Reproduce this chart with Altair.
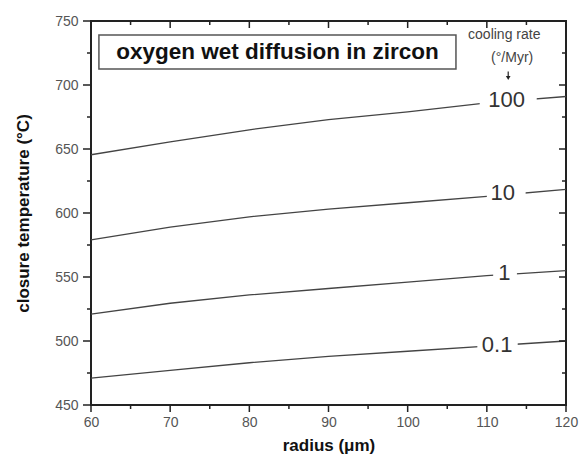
import altair as alt
import pandas as pd

# ---- data ----
radius = [60, 70, 80, 90, 100, 110, 120]
tc_100 = [645.5, 655.5, 665, 673, 679, 686, 691]
tc_10 = [579, 589, 597, 603, 608, 613, 618.5]
tc_1 = [521, 529.5, 536, 541, 546, 551, 555]
tc_01 = [471, 477, 483, 488, 492, 496, 500]
rates = ["100", "10", "1", "0.1"]

# in-line rate labels (position along each curve) and the gap cut in the curve
label_x = [112.5, 112.0, 112.2, 111.3]
label_y = [688, 615.5, 553, 497]
gap_x0 = [109.1, 110.0, 110.8, 108.8]
gap_x1 = [116.3, 114.9, 113.8, 113.9]

x_major = [60, 70, 80, 90, 100, 110, 120]
x_minor = [65, 75, 85, 95, 105, 115]
y_major = [450, 500, 550, 600, 650, 700, 750]
y_minor = [475, 525, 575, 625, 675, 725]

title_text = ["oxygen wet diffusion in zircon"]
title_box_x = [61.0, 106.1]
title_box_y = [712.5, 739.1]
legend_text = ["cooling rate", "(°/Myr)"]
legend_x = [112.2, 113.2]
legend_y = [739, 721]
arrow_x = [112.7]
arrow_y = [710.5, 705.5]

FONT = "Liberation Sans"
W, H = 475, 384

rows = []
for r, series in zip(rates, [tc_100, tc_10, tc_1, tc_01]):
    for xv, yv in zip(radius, series):
        rows.append({"rate": r, "radius": xv, "tc": yv})
lines_df = pd.DataFrame(rows)

lab_df = pd.DataFrame({"rate": rates, "lx": label_x, "ly": label_y,
                       "gx0": gap_x0, "gx1": gap_x1})
box_df = pd.DataFrame({"bx0": [title_box_x[0]], "bx1": [title_box_x[1]],
                       "by0": [title_box_y[0]], "by1": [title_box_y[1]],
                       "tx": [sum(title_box_x) / 2], "ty": [sum(title_box_y) / 2],
                       "txt": title_text})
leg_df = pd.DataFrame({"txt": legend_text, "x": legend_x, "y": legend_y})
arr_df = pd.DataFrame({"x": arrow_x, "y0": [arrow_y[0]], "y1": [arrow_y[1]]})

xs = alt.Scale(domain=[60, 120], nice=False, zero=False)
ys = alt.Scale(domain=[450, 750], nice=False, zero=False)

common = dict(domain=False, grid=False, ticks=False, labelFlush=False,
              labelOverlap=False, labelFont=FONT, labelFontSize=14,
              labelColor="#555", titleFont=FONT, titleFontSize=17,
              titleFontWeight="bold", titleColor="#111")

# one shared axis definition, used identically by every layer so they merge
X_AXIS = alt.Axis(orient="bottom", values=x_major, format="d",
                  title="radius (\u03bcm)", labelPadding=10, titlePadding=8,
                  **common)
Y_AXIS = alt.Axis(orient="left", values=y_major, format="d",
                  title="closure temperature (°C)", labelPadding=13,
                  titlePadding=22, **common)


def X(field):
    return alt.X(field, scale=xs, axis=X_AXIS)


def Y(field):
    return alt.Y(field, scale=ys, axis=Y_AXIS)


lines = alt.Chart(lines_df).mark_line(color="#444", strokeWidth=1.3).encode(
    x=X("radius:Q"), y=Y("tc:Q"), detail="rate:N",
)

gaps = alt.Chart(lab_df).transform_calculate(
    gy0="datum.ly - 7", gy1="datum.ly + 7"
).mark_rect(color="white").encode(
    x=X("gx0:Q"), x2="gx1:Q", y=Y("gy0:Q"), y2="gy1:Q",
)

labels = alt.Chart(lab_df).mark_text(font=FONT, fontSize=22, color="#333",
                                     align="center", baseline="middle").encode(
    x=X("lx:Q"), y=Y("ly:Q"), text="rate:N",
)

box = alt.Chart(box_df).mark_rect(fill="white", stroke="#555",
                                  strokeWidth=1.5).encode(
    x=X("bx0:Q"), x2="bx1:Q", y=Y("by0:Q"), y2="by1:Q",
)

box_text = alt.Chart(box_df).mark_text(font=FONT, fontSize=22.5, fontWeight="bold",
                                       color="#111", align="center",
                                       baseline="middle").encode(
    x=X("tx:Q"), y=Y("ty:Q"), text="txt:N",
)

leg_text = alt.Chart(leg_df).mark_text(font=FONT, fontSize=14, color="#444",
                                       align="center", baseline="middle").encode(
    x=X("x:Q"), y=Y("y:Q"), text="txt:N",
)

arrow_stem = alt.Chart(arr_df).mark_rule(color="#222", strokeWidth=1.2).encode(
    x=X("x:Q"), y=Y("y0:Q"), y2="y1:Q",
)
arrow_head = alt.Chart(arr_df).mark_point(shape="triangle-down", filled=True,
                                          color="#222", size=22, opacity=1).encode(
    x=X("x:Q"), y=Y("y1:Q"),
)

# ---- tick marks (bottom/left outward, top/right inward, as in the original) ----
tick_style = dict(color="#222", strokeWidth=1.5)


def xticks(values, y0, y1):
    return alt.Chart(pd.DataFrame({"v": values})).mark_rule(**tick_style).encode(
        x=X("v:Q"), y=alt.value(y0), y2=alt.value(y1))


def yticks(values, x0, x1):
    return alt.Chart(pd.DataFrame({"v": values})).mark_rule(**tick_style).encode(
        y=Y("v:Q"), x=alt.value(x0), x2=alt.value(x1))


ticks = [
    xticks(x_major, H, H + 7), xticks(x_minor, H, H + 4),
    xticks(x_major, 0, 7), xticks(x_minor, 0, 4),
    yticks(y_major, 0, -8), yticks(y_minor, 0, -4),
    yticks(y_major, W, W - 7), yticks(y_minor, W, W - 4),
]

chart = alt.layer(
    lines, gaps, labels, box, box_text, leg_text, arrow_stem, arrow_head, *ticks
).properties(
    width=W, height=H,
    autosize=alt.AutoSizeParams(type="none"),
    padding={"left": 91, "top": 21, "right": 14, "bottom": 56},
    background="white",
).configure_view(stroke="#222", strokeWidth=2)

chart.save("out.html", embed_options={"renderer": "svg", "actions": False})
